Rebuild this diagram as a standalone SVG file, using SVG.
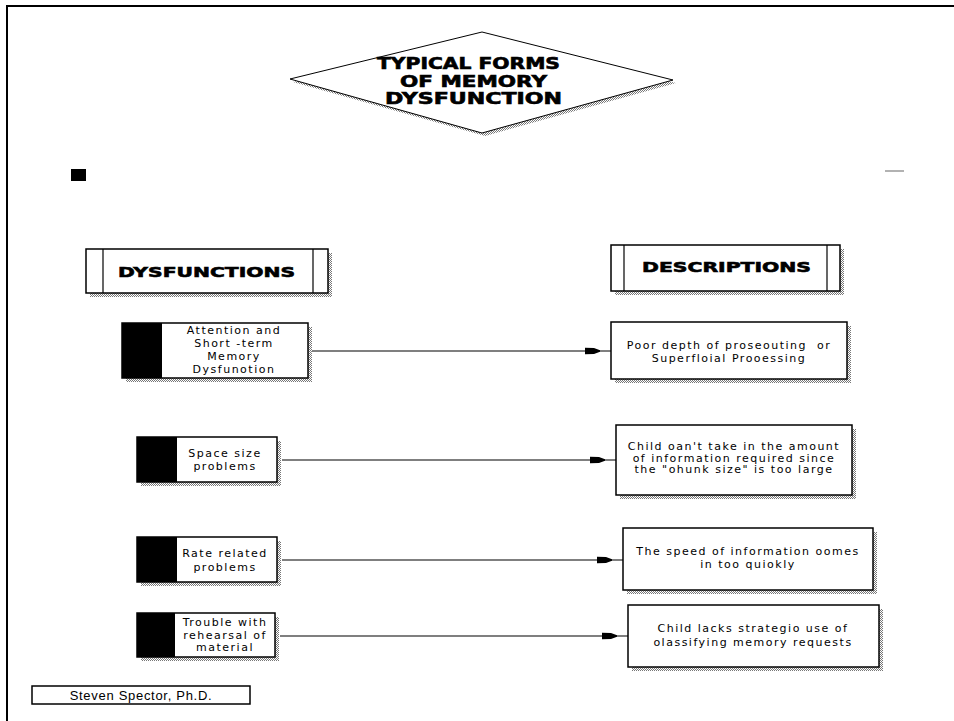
<svg xmlns="http://www.w3.org/2000/svg" width="954" height="721" viewBox="0 0 954 721">
<defs>
<pattern id="dots" width="2" height="2" patternUnits="userSpaceOnUse">
<rect width="2" height="2" fill="#fff"/>
<rect width="1" height="1" fill="#777"/>
<rect x="1" y="1" width="1" height="1" fill="#777"/>
</pattern>
<marker id="arr" viewBox="0 0 26 8" refX="26" refY="4" markerWidth="26" markerHeight="8" markerUnits="userSpaceOnUse" orient="auto">
<path d="M0,0.8 L9,1 L15,3.2 L15,4.8 L9,7 L0,7.2 Z" fill="#000"/>
</marker>
<style>
.box{fill:#fff;stroke:#000;stroke-width:1.5}
.sh{fill:url(#dots)}
.blk{fill:#000}
.t{font-family:"DejaVu Sans","Liberation Sans",sans-serif;font-size:11px;letter-spacing:1.5px;text-anchor:middle;fill:#000}
.h{font-family:"DejaVu Sans","Liberation Sans",sans-serif;font-weight:bold;font-size:15px;fill:#000;stroke:#000;stroke-width:0.6}
.c{stroke:#000;stroke-width:1.2;fill:none;marker-end:url(#arr)}
.frame{stroke:#000;stroke-width:2;fill:none}
</style>
</defs>
<rect width="954" height="721" fill="#fff"/>
<path class="frame" d="M7,721 V6 H954"/>
<rect x="71" y="169" width="15" height="12" fill="#000"/>
<line x1="885" y1="171" x2="904" y2="171" stroke="#999" stroke-width="1.5"/>

<g id="title">
<polygon class="sh" points="293,82 485,35 676,83 485,136"/>
<polygon points="290,79 482,32 673,80 482,133" fill="#fff" stroke="#000" stroke-width="1"/>
<text class="h" x="377" y="69" textLength="183" lengthAdjust="spacingAndGlyphs">TYPICAL FORMS</text>
<text class="h" x="400" y="87" textLength="147" lengthAdjust="spacingAndGlyphs">OF MEMORY</text>
<text class="h" x="385" y="104" textLength="177" lengthAdjust="spacingAndGlyphs">DYSFUNCTION</text>
</g>

<g id="head-dysfunctions">
<rect class="sh" x="90" y="253" width="242" height="44"/>
<rect class="box" x="86" y="249" width="242" height="44"/>
<line x1="103" y1="249" x2="103" y2="293" stroke="#000" stroke-width="1.2"/>
<line x1="313" y1="249" x2="313" y2="293" stroke="#000" stroke-width="1.2"/>
<text class="h" style="font-size:14px" x="118" y="277" textLength="177" lengthAdjust="spacingAndGlyphs">DYSFUNCTIONS</text>
</g>

<g id="head-descriptions">
<rect class="sh" x="615" y="249" width="229" height="46"/>
<rect class="box" x="611" y="245" width="229" height="46"/>
<line x1="624" y1="245" x2="624" y2="291" stroke="#000" stroke-width="1.2"/>
<line x1="827" y1="245" x2="827" y2="291" stroke="#000" stroke-width="1.2"/>
<text class="h" style="font-size:14px" x="642" y="272" textLength="169" lengthAdjust="spacingAndGlyphs">DESCRIPTIONS</text>
</g>

<g id="d1">
<rect class="sh" x="126" y="327" width="186" height="55"/>
<rect class="box" x="122" y="323" width="186" height="55"/>
<rect class="blk" x="122" y="323" width="40" height="55"/>
<text class="t" x="234" y="334">Attention and</text>
<text class="t" x="234" y="347">Short -term</text>
<text class="t" x="234" y="360">Memory</text>
<text class="t" x="234" y="373">Dysfunotion</text>
</g>

<g id="d2">
<rect class="sh" x="141" y="441" width="140" height="45"/>
<rect class="box" x="137" y="437" width="140" height="45"/>
<rect class="blk" x="137" y="437" width="40" height="45"/>
<text class="t" x="225" y="457">Space size</text>
<text class="t" x="225" y="470">problems</text>
</g>

<g id="d3">
<rect class="sh" x="141" y="541" width="140" height="45"/>
<rect class="box" x="137" y="537" width="140" height="45"/>
<rect class="blk" x="137" y="537" width="40" height="45"/>
<text class="t" x="225" y="557">Rate related</text>
<text class="t" x="225" y="570.5">problems</text>
</g>

<g id="d4">
<rect class="sh" x="141" y="617" width="138" height="44"/>
<rect class="box" x="137" y="613" width="138" height="44"/>
<rect class="blk" x="137" y="613" width="38" height="44"/>
<text class="t" x="225" y="626">Trouble with</text>
<text class="t" x="225" y="638.5">rehearsal of</text>
<text class="t" x="225" y="651">material</text>
</g>

<g id="r1">
<rect class="sh" x="615" y="326" width="236" height="57"/>
<rect class="box" x="611" y="322" width="236" height="57"/>
<text class="t" x="729" y="349">Poor depth of proseouting&#160; or</text>
<text class="t" x="729" y="362">Superfloial Prooessing</text>
</g>

<g id="r2">
<rect class="sh" x="620" y="429" width="236" height="70"/>
<rect class="box" x="616" y="425" width="236" height="70"/>
<text class="t" x="734" y="450">Child oan't take in the amount</text>
<text class="t" x="734" y="461.5">of information required since</text>
<text class="t" x="734" y="473">the "ohunk size" is too large</text>
</g>

<g id="r3">
<rect class="sh" x="627" y="532" width="250" height="62"/>
<rect class="box" x="623" y="528" width="250" height="62"/>
<text class="t" x="748" y="555">The speed of information oomes</text>
<text class="t" x="748" y="568">in too quiokly</text>
</g>

<g id="r4">
<rect class="sh" x="632" y="609" width="251" height="62"/>
<rect class="box" x="628" y="605" width="251" height="62"/>
<text class="t" x="753" y="632">Child lacks strategio use of</text>
<text class="t" x="753" y="646">olassifying memory requests</text>
</g>

<g id="author">
<rect class="box" x="32" y="686" width="218" height="18" stroke-width="1.2"/>
<text class="t" style="font-family:'Liberation Sans',Arial,sans-serif;font-size:13px;letter-spacing:0.7px" x="141" y="699.5">Steven Spector, Ph.D.</text>
</g>

<g id="connectors">
<line class="c" x1="312" y1="351" x2="611" y2="351"/>
<line class="c" x1="282" y1="460" x2="616" y2="460"/>
<line class="c" x1="282" y1="560" x2="623" y2="560"/>
<line class="c" x1="280" y1="636" x2="628" y2="636"/>
</g>
</svg>
